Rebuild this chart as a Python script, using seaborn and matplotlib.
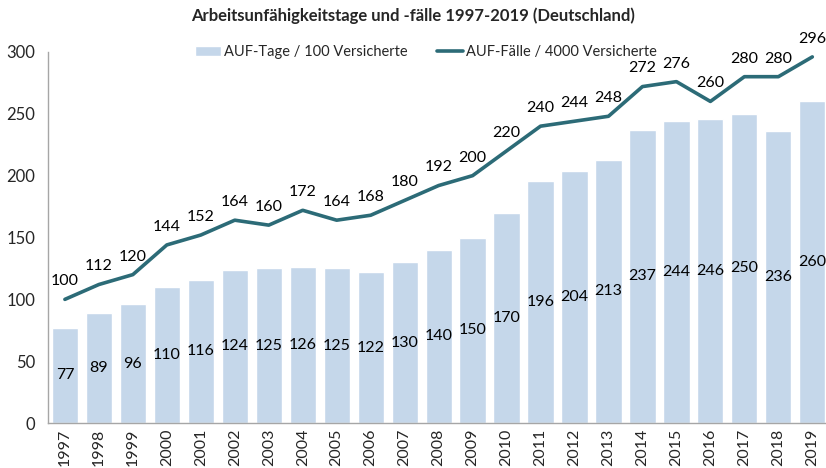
import numpy as np
import pandas as pd
import matplotlib.pyplot as plt
import seaborn as sns

sns.set_style('white')
plt.rcParams['font.family'] = ['Lato', 'DejaVu Sans']

# data
years = [str(y) for y in range(1997, 2020)]
auf_tage = [77, 89, 96, 110, 116, 124, 125, 126, 125, 122, 130, 140, 150, 170,
            196, 204, 213, 237, 244, 246, 250, 236, 260]
auf_faelle = [100, 112, 120, 144, 152, 164, 160, 172, 164, 168, 180, 192, 200, 220,
              240, 244, 248, 272, 276, 260, 280, 280, 296]

bar_col = '#C5D7EA'
line_col = '#2C6B77'

df = pd.DataFrame({'year': years, 'tage': auf_tage, 'faelle': auf_faelle})

fig = plt.figure(figsize=(8.26, 4.68), dpi=100)
ax = fig.add_axes([0.058, 0.096, 0.946, 0.793])

sns.barplot(data=df, x='year', y='tage', color=bar_col, width=0.77,
            saturation=1, ax=ax, label='AUF-Tage / 100 Versicherte')
pos = np.arange(len(years))
sns.lineplot(x=pos, y=df['faelle'], color=line_col, linewidth=2.6, ax=ax,
             label='AUF-Fälle / 4000 Versicherte')

# value labels
for x, v in zip(pos, auf_tage):
    ax.text(x, v / 2, str(v), ha='center', va='center', fontsize=11.5, color='black')
for x, v in zip(pos, auf_faelle):
    ax.annotate(str(v), (x, v), xytext=(0, 8), textcoords='offset points',
                ha='center', va='bottom', fontsize=11.5, color='black',
                annotation_clip=False)

ax.set_xlim(-0.5, len(years) - 0.5)
ax.set_ylim(0, 300)
ax.set_yticks(range(0, 301, 50))
ax.set_xlabel('')
ax.set_ylabel('')
ax.tick_params(axis='x', labelrotation=90, labelsize=11.5, length=0, pad=4)
ax.tick_params(axis='y', labelsize=12, length=0, pad=9)

for s in ['top', 'right']:
    ax.spines[s].set_visible(False)
for s in ['left', 'bottom']:
    ax.spines[s].set_color('#A6A6A6')
    ax.spines[s].set_linewidth(1)

# legend: bars first, then line
handles, labels = ax.get_legend_handles_labels()
order = [labels.index('AUF-Tage / 100 Versicherte'), labels.index('AUF-Fälle / 4000 Versicherte')]
ax.legend([handles[i] for i in order], [labels[i] for i in order],
          loc='center', bbox_to_anchor=(0.484, 1.0), ncol=2, frameon=False,
          fontsize=10.5, handlelength=1.8, columnspacing=2.0, handletextpad=0.2)

fig.suptitle('Arbeitsunfähigkeitstage und -fälle 1997-2019 (Deutschland)',
             fontsize=12, fontweight='bold', x=0.5, y=0.985)

plt.savefig('out.png', dpi=100)
